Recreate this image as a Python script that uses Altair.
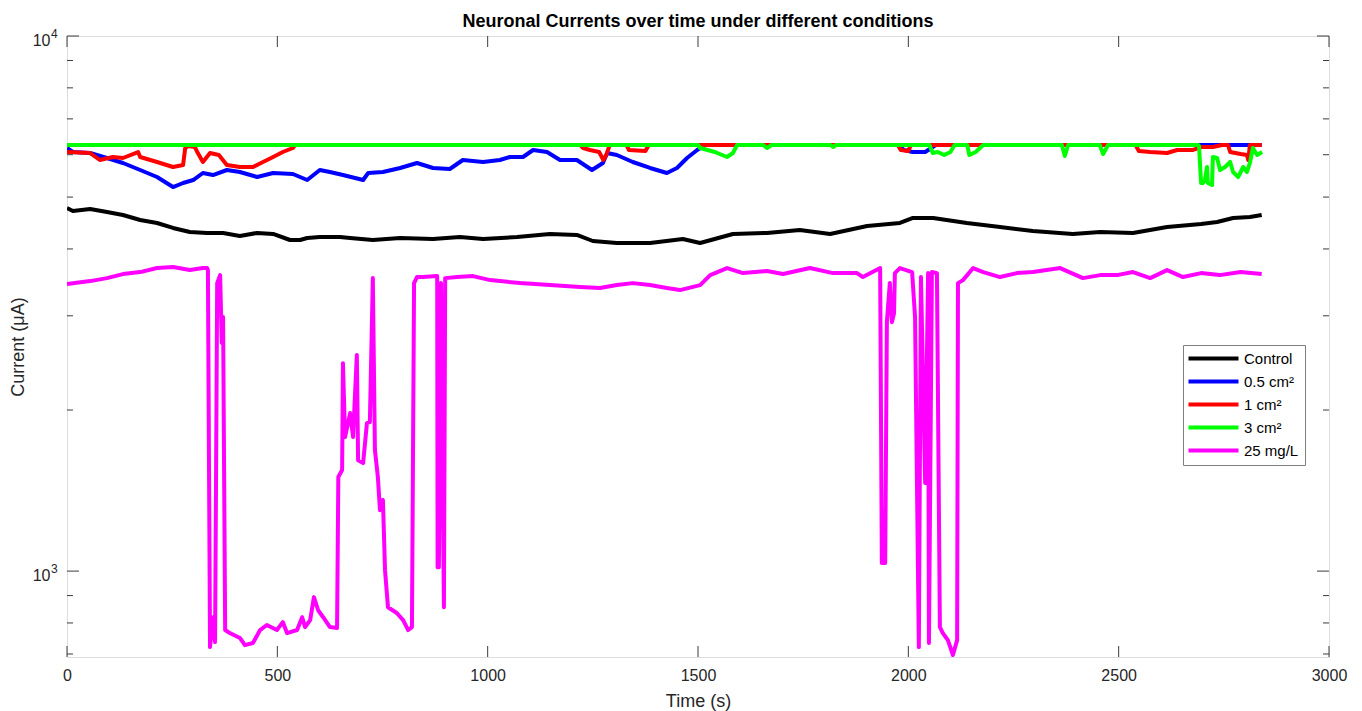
import altair as alt
import pandas as pd

# ---- recorded currents (time in s, current in µA) ----
control_t = [0, 14, 55, 95, 133, 174, 214, 252, 292, 333, 371, 411, 452, 490, 530, 554, 571, 601, 649, 673,
             727, 792, 870, 934, 989, 1070, 1148, 1212, 1250, 1307, 1386, 1464, 1505, 1583, 1664, 1742, 1814,
             1902, 1980, 2011, 2059, 2139, 2218, 2296, 2391, 2456, 2534, 2615, 2696, 2734, 2772, 2812, 2840]
control_v = [4770, 4709, 4750, 4689, 4629, 4531, 4473, 4378, 4303, 4285, 4285, 4230, 4285, 4266, 4157, 4157,
             4193, 4211, 4211, 4193, 4157, 4193, 4175, 4211, 4175, 4211, 4266, 4248, 4139, 4104, 4104, 4175,
             4104, 4266, 4285, 4340, 4266, 4415, 4473, 4570, 4570, 4473, 4396, 4322, 4266, 4303, 4285, 4396,
             4454, 4492, 4570, 4589, 4629]

half_t = [0, 14, 55, 95, 133, 174, 214, 252, 276, 300, 323, 347, 380, 411, 452, 490, 537, 571, 601, 625, 656,
          704, 716, 751, 792, 832, 870, 910, 941, 989, 1029, 1053, 1084, 1108, 1141, 1172, 1212, 1248, 1274,
          1284, 1307, 1345, 1386, 1426, 1450, 1474, 1498, 1517, 1975, 1990, 2010, 2040, 2055, 2065, 2840]
half_v = [6176, 6070, 6044, 5916, 5790, 5618, 5451, 5221, 5312, 5381, 5546, 5498, 5618, 5570, 5451, 5546,
          5522, 5381, 5618, 5570, 5498, 5381, 5546, 5570, 5667, 5790, 5667, 5642, 5865, 5815, 5865, 5941,
          5941, 6123, 6070, 5865, 5865, 5618, 5790, 6044, 5992, 5815, 5667, 5546, 5667, 5916, 6123, 6256,
          6256, 6123, 6070, 6070, 6176, 6256, 6256]

one_t = [0, 55, 78, 109, 133, 169, 174, 214, 252, 276, 281, 288, 304, 311, 323, 340, 361, 380, 411, 442, 466,
         490, 513, 537, 542, 1220, 1227, 1243, 1265, 1275, 1282, 1290, 1330, 1336, 1375, 1383, 1975, 1982,
         2000, 2006, 2540, 2548, 2575, 2615, 2639, 2677, 2696, 2724, 2746, 2760, 2765, 2790, 2805, 2808,
         2812, 2840]
one_v = [6070, 6044, 5865, 5941, 5916, 6070, 5941, 5815, 5691, 5740, 6176, 6229, 6202, 6044, 5815, 6044,
         5992, 5740, 5691, 5691, 5815, 5941, 6070, 6176, 6256, 6256, 6176, 6123, 6070, 5865, 5992, 6256,
         6256, 6123, 6096, 6256, 6256, 6123, 6096, 6256, 6256, 6096, 6070, 6044, 6123, 6123, 6202, 6202,
         6256, 6256, 6070, 6018, 5992, 5865, 6256, 6256]

three_t = [0, 1500, 1505, 1540, 1569, 1583, 1593, 1655, 1664, 1675, 1815, 1821, 1828, 2050, 2058, 2070, 2085,
           2100, 2110, 2140, 2145, 2160, 2178, 2365, 2372, 2380, 2455, 2463, 2475, 2689, 2691, 2696, 2700,
           2705, 2710, 2712, 2722, 2724, 2734, 2741, 2753, 2765, 2772, 2784, 2796, 2805, 2812, 2819, 2829,
           2841]
three_v = [6256, 6256, 6176, 6070, 5941, 6044, 6256, 6256, 6176, 6256, 6256, 6202, 6256, 6256, 6044, 6070,
           5992, 6070, 6256, 6256, 5992, 6070, 6256, 6256, 5967, 6256, 6256, 6018, 6256, 6256, 6229, 5312,
           5312, 5381, 5691, 5312, 5266, 5941, 5916, 5618, 5691, 5815, 5570, 5451, 5691, 5570, 5790, 6176,
           5992, 6070]

mgl_t = [0, 55, 95, 133, 174, 214, 252, 292, 323, 333, 335, 340, 347, 352, 357, 364, 368, 371, 376, 387, 411,
         423, 442, 459, 475, 499, 513, 523, 547, 559, 566, 578, 587, 597, 609, 625, 642, 645, 654, 656, 661,
         673, 680, 689, 692, 704, 713, 720, 727, 732, 739, 744, 751, 756, 763, 784, 799, 811, 820, 825, 832,
         846, 880, 881, 884, 889, 896, 899, 927, 965, 1006, 1077, 1148, 1220, 1267, 1307, 1345, 1386, 1426,
         1457, 1505, 1529, 1569, 1607, 1664, 1702, 1766, 1821, 1878, 1892, 1933, 1937, 1945, 1949, 1956,
         1961, 1966, 1968, 1980, 2009, 2016, 2025, 2030, 2040, 2047, 2049, 2056, 2068, 2075, 2082, 2094,
         2106, 2116, 2118, 2130, 2154, 2178, 2218, 2258, 2296, 2361, 2415, 2456, 2496, 2534, 2575, 2615,
         2653, 2696, 2740, 2790, 2840]
mgl_v = [3438, 3483, 3528, 3590, 3621, 3684, 3700, 3652, 3684, 3684, 3652, 721, 820, 737, 3453, 3574, 2668,
         2983, 776, 766, 750, 727, 734, 776, 793, 776, 803, 766, 776, 820, 786, 810, 894, 845, 820, 786, 783,
         1499, 1545, 2447, 1780, 1974, 1780, 2533, 1612, 1592, 1891, 1899, 3528, 1684, 1499, 1300, 1358, 1004,
         856, 835, 810, 776, 786, 3453, 3544, 3544, 3559, 1017, 1017, 3453, 856, 3528, 3544, 3559, 3498, 3453,
         3424, 3394, 3380, 3424, 3453, 3424, 3380, 3351, 3424, 3574, 3684, 3605, 3637, 3590, 3684, 3605, 3605,
         3544, 3684, 1035, 1035, 2919, 3453, 2919, 3034, 3605, 3684, 3621, 2983, 721, 3544, 1461, 3605, 734,
         3621, 3605, 786, 766, 743, 697, 743, 3453, 3498, 3684, 3621, 3544, 3605, 3621, 3684, 3528, 3574, 3574,
         3621, 3528, 3652, 3544, 3605, 3574, 3621, 3590]

conditions = ["Control", "0.5 cm²", "1 cm²", "3 cm²", "25 mg/L"]
colors = ["#000000", "#0000ff", "#ff0000", "#00ff00", "#ff00ff"]
series_t = [control_t, half_t, one_t, three_t, mgl_t]
series_v = [control_v, half_v, one_v, three_v, mgl_v]

# axis ticks
x_ticks = [0, 500, 1000, 1500, 2000, 2500, 3000]
y_major = [1000, 10000]
y_minor = [700, 800, 900, 2000, 3000, 4000, 5000, 6000, 7000, 8000, 9000]
y_exp = ["3", "4"]

W, H = 1262, 621
FONT = "Liberation Sans"
TXT = "#262626"
TICK = "#3c3c3c"

frames = []
for name, ts, vs in zip(conditions, series_t, series_v):
    frames.append(pd.DataFrame({"t": ts, "v": vs, "cond": name}))
data = pd.concat(frames, ignore_index=True)

xscale = alt.Scale(domain=[0, 3000], nice=False, zero=False)
yscale = alt.Scale(type="log", domain=[691, 10000], nice=False, zero=False)

xaxis = alt.Axis(
    values=x_ticks, format="d", ticks=False, domain=False, grid=False, labelFlush=False,
    labelFont=FONT, labelFontSize=16, labelColor=TXT, labelPadding=10,
    title="Time (s)", titleFont=FONT, titleFontSize=18, titleFontWeight="normal",
    titleColor=TXT, titleY=44, titleBaseline="middle")
yaxis = alt.Axis(
    values=y_major, ticks=False, domain=False, grid=False,
    labelExpr="'10'", labelFont=FONT, labelFontSize=16, labelColor=TXT,
    labelPadding=17, labelOffset=4,
    title="Current (μA)", titleFont=FONT, titleFontSize=18, titleFontWeight="normal",
    titleColor=TXT, titleX=-49, titleY=H / 2, titleBaseline="middle")

X = alt.X("t:Q", scale=xscale, axis=xaxis)
Y = alt.Y("v:Q", scale=yscale, axis=yaxis)

color = alt.Color(
    "cond:N",
    title=None,
    scale=alt.Scale(domain=conditions, range=colors),
    legend=alt.Legend(
        orient="none", legendX=1116, legendY=309, direction="vertical",
        symbolType="M-1.6,0H8.4", symbolSize=100, symbolStrokeWidth=4,
        labelFont=FONT, labelFontSize=15, labelColor="#000000", labelOffset=40,
        padding=6, rowPadding=6, strokeColor="#7f7f7f", fillColor="#ffffff",
        labelLimit=200,
    ),
)

base = alt.Chart(data)
layers = [
    base.transform_filter(alt.datum.cond == name)
    .mark_line(strokeWidth=4, strokeJoin="round", clip=True)
    .encode(x=X, y=Y, color=color)
    for name in conditions
]

# inward tick marks on all four sides
xt = alt.Chart(pd.DataFrame({"t": x_ticks}))
ymaj = alt.Chart(pd.DataFrame({"v": y_major}))
ymin = alt.Chart(pd.DataFrame({"v": y_minor}))
tick_layers = [
    xt.mark_rule(color=TICK, strokeWidth=1).encode(x=X, y=alt.value(H), y2=alt.value(H - 11)),
    xt.mark_rule(color=TICK, strokeWidth=1).encode(x=X, y=alt.value(0), y2=alt.value(11)),
    ymaj.mark_rule(color=TICK, strokeWidth=1).encode(y=Y, x=alt.value(0), x2=alt.value(12)),
    ymaj.mark_rule(color=TICK, strokeWidth=1).encode(y=Y, x=alt.value(W), x2=alt.value(W - 12)),
    ymin.mark_rule(color=TICK, strokeWidth=1).encode(y=Y, x=alt.value(0), x2=alt.value(6)),
    ymin.mark_rule(color=TICK, strokeWidth=1).encode(y=Y, x=alt.value(W), x2=alt.value(W - 6)),
]

# exponent of the 10^n labels
exps = alt.Chart(pd.DataFrame({"v": y_major, "e": y_exp})).mark_text(
    align="left", baseline="middle", dy=-2, font=FONT, fontSize=12, color=TXT
).encode(y=Y, x=alt.value(-16), text="e:N")

chart = alt.layer(*layers, *tick_layers, exps).properties(
    width=W, height=H,
    padding={"left": 67, "top": 36, "right": 33, "bottom": 54},
    autosize=alt.AutoSizeParams(type="none"),
    title=alt.TitleParams(
        "Neuronal Currents over time under different conditions",
        font=FONT, fontSize=18, fontWeight="bold", color="#000000",
        anchor="middle", frame="group", offset=-3,
    ),
).configure_view(stroke="#6e6e6e", strokeWidth=1).configure(background="#ffffff")

chart.save("out.html", embed_options={"renderer": "svg", "actions": False})
